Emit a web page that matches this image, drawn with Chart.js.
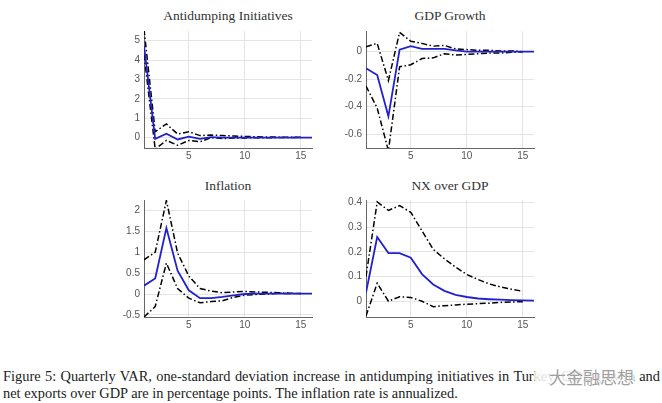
<!DOCTYPE html>
<html>
<head>
<meta charset="utf-8">
<script src="https://cdn.jsdelivr.net/npm/chart.js@4.4.0/dist/chart.umd.min.js"></script>
<style>
  body { margin: 0; background: #fff; width: 662px; height: 403px; overflow: hidden; position: relative; }
  canvas { position: absolute; }
  .ttl { position: absolute; width: 200px; margin-left: -100px; text-align: center;
         font-family: "Liberation Serif", serif; font-size: 13.5px; line-height: 16px; color: #333; }
  .cap { position: absolute; left: 3px; font-family: "Liberation Serif", serif; font-size: 14.4px;
         line-height: 17px; color: #222; white-space: nowrap; }
  .cap.just { width: 657px; text-align: justify; text-align-last: justify; white-space: normal; }
  .wm { position: absolute; left: 535px; top: 366px; height: 22px; line-height: 22px; padding: 0 0 0 14px;
        font-family: "Noto Sans CJK SC", sans-serif; font-size: 17px; color: #a0a0a0;
        background: rgba(255,255,255,0.85); }
</style>
</head>
<body>
<div class="ttl" style="left:228px;top:8px">Antidumping Initiatives</div>
<div class="ttl" style="left:450px;top:8px">GDP Growth</div>
<div class="ttl" style="left:228px;top:178px">Inflation</div>
<div class="ttl" style="left:450px;top:178px">NX over GDP</div>
<canvas id="c1" width="206" height="145" style="left:110px;top:21px"></canvas>
<canvas id="c2" width="206" height="145" style="left:332px;top:21px"></canvas>
<canvas id="c3" width="206" height="145" style="left:110px;top:190px"></canvas>
<canvas id="c4" width="206" height="145" style="left:332px;top:190px"></canvas>
<div class="cap just" style="top:368px">Figure 5: Quarterly VAR, one-standard deviation increase in antidumping initiatives in Turkey. GDP growth and</div>
<div class="cap" style="top:385px">net exports over GDP are in percentage points. The inflation rate is annualized.</div>
<div class="wm">大金融思想</div>
<script>
const steps = [1, 2, 3, 4, 5, 6, 7, 8, 9, 10, 11, 12, 13, 14, 15, 16];
const xTicks = [5, 10, 15];

const adMedian = [4.75, -0.07, 0.2, -0.1, 0.05, -0.07, 0.02, 0, 0, 0, 0, 0, 0, 0, 0, 0];
const adUpper = [5.6, 0.3, 0.7, 0.18, 0.3, 0.1, 0.13, 0.1, 0.08, 0.06, 0.04, 0.03, 0.02, 0.01, 0.01];
const adLower = [4.3, -0.6, -0.15, -0.4, -0.15, -0.22, 0, -0.05, -0.03, -0.02, -0.01, -0.01, 0, 0, 0];
const adTicks = [0, 1, 2, 3, 4, 5];

const gdpMedian = [-0.12, -0.17, -0.47, 0.015, 0.04, 0.02, 0.02, 0.02, 0.01, 0, 0, 0, 0, 0, 0, 0];
const gdpUpper = [0.035, 0.06, -0.21, 0.14, 0.075, 0.06, 0.04, 0.045, 0.02, 0.015, 0.01, 0.01, 0.005, 0.005, 0];
const gdpLower = [-0.25, -0.41, -0.72, -0.11, -0.095, -0.05, -0.045, -0.015, -0.025, -0.02, -0.015, -0.01, -0.01, -0.005, 0];
const gdpTicks = [-0.6, -0.4, -0.2, 0];

const infMedian = [0.2, 0.37, 1.58, 0.56, 0.09, -0.1, -0.1, -0.07, -0.03, 0, 0.01, 0.01, 0.01, 0.01, 0.01, 0.01];
const infUpper = [0.82, 1.0, 2.24, 0.98, 0.43, 0.13, 0.07, 0.03, 0.05, 0.06, 0.05, 0.04, 0.03, 0.02, 0.01];
const infLower = [-0.55, -0.3, 0.74, 0.13, -0.1, -0.21, -0.18, -0.16, -0.08, -0.03, -0.01, 0, 0.02, 0.01, 0.01];
const infTicks = [-0.5, 0, 0.5, 1, 1.5, 2];

const nxMedian = [0.035, 0.26, 0.195, 0.195, 0.176, 0.11, 0.068, 0.042, 0.026, 0.017, 0.011, 0.008, 0.006, 0.004, 0.003, 0.002];
const nxUpper = [0.1, 0.402, 0.368, 0.387, 0.36, 0.285, 0.21, 0.172, 0.138, 0.108, 0.088, 0.07, 0.058, 0.048, 0.04];
const nxLower = [-0.06, 0.073, 0, 0.018, 0.015, 0, -0.022, -0.018, -0.015, -0.012, -0.01, -0.008, -0.005, -0.003, -0.002];
const nxTicks = [0, 0.1, 0.2, 0.3, 0.4];

Chart.defaults.font.family = "'Liberation Sans', Arial, sans-serif";
Chart.defaults.font.size = 10;
Chart.defaults.color = "#555";

const pts = (vals) => vals.map((v, i) => ({ x: steps[i], y: v }));

const band = (vals) => ({
  data: pts(vals),
  borderColor: "#000",
  borderWidth: 1.5,
  borderDash: [6, 2.5, 1.5, 2.5],
  pointRadius: 0,
  tension: 0,
});

function panel(id, median, upper, lower, yMin, yMax, yTicks) {
  new Chart(document.getElementById(id), {
    type: "line",
    data: {
      datasets: [
        { data: pts(median), borderColor: "#2222cc", borderWidth: 1.8, pointRadius: 0, tension: 0 },
        band(upper),
        band(lower),
      ],
    },
    options: {
      responsive: false,
      animation: false,
      layout: { padding: { top: 4, right: 4, left: 0, bottom: 0 } },
      plugins: { legend: { display: false }, tooltip: { enabled: false } },
      scales: {
        x: {
          type: "linear", min: 1, max: 16,
          afterBuildTicks: (s) => { s.ticks = xTicks.map((v) => ({ value: v })); },
          afterFit: (s) => { s.height = 18; },
          ticks: { padding: 2, maxRotation: 0, callback: (v) => String(v) },
          grid: { color: "#e4e4e4", drawTicks: false },
          border: { display: true, color: "#666" },
        },
        y: {
          min: yMin, max: yMax,
          afterBuildTicks: (s) => { s.ticks = yTicks.map((v) => ({ value: v })); },
          afterFit: (s) => { s.width = 34; },
          ticks: { padding: 4, callback: (v) => String(v) },
          grid: { color: "#e4e4e4", drawTicks: false },
          border: { display: true, color: "#666" },
        },
      },
    },
  });
}

panel("c1", adMedian, adUpper, adLower, -0.54, 5.5, adTicks);
panel("c2", gdpMedian, gdpUpper, gdpLower, -0.7, 0.15, gdpTicks);
panel("c3", infMedian, infUpper, infLower, -0.55, 2.25, infTicks);
panel("c4", nxMedian, nxUpper, nxLower, -0.064, 0.41, nxTicks);
</script>
</body>
</html>
